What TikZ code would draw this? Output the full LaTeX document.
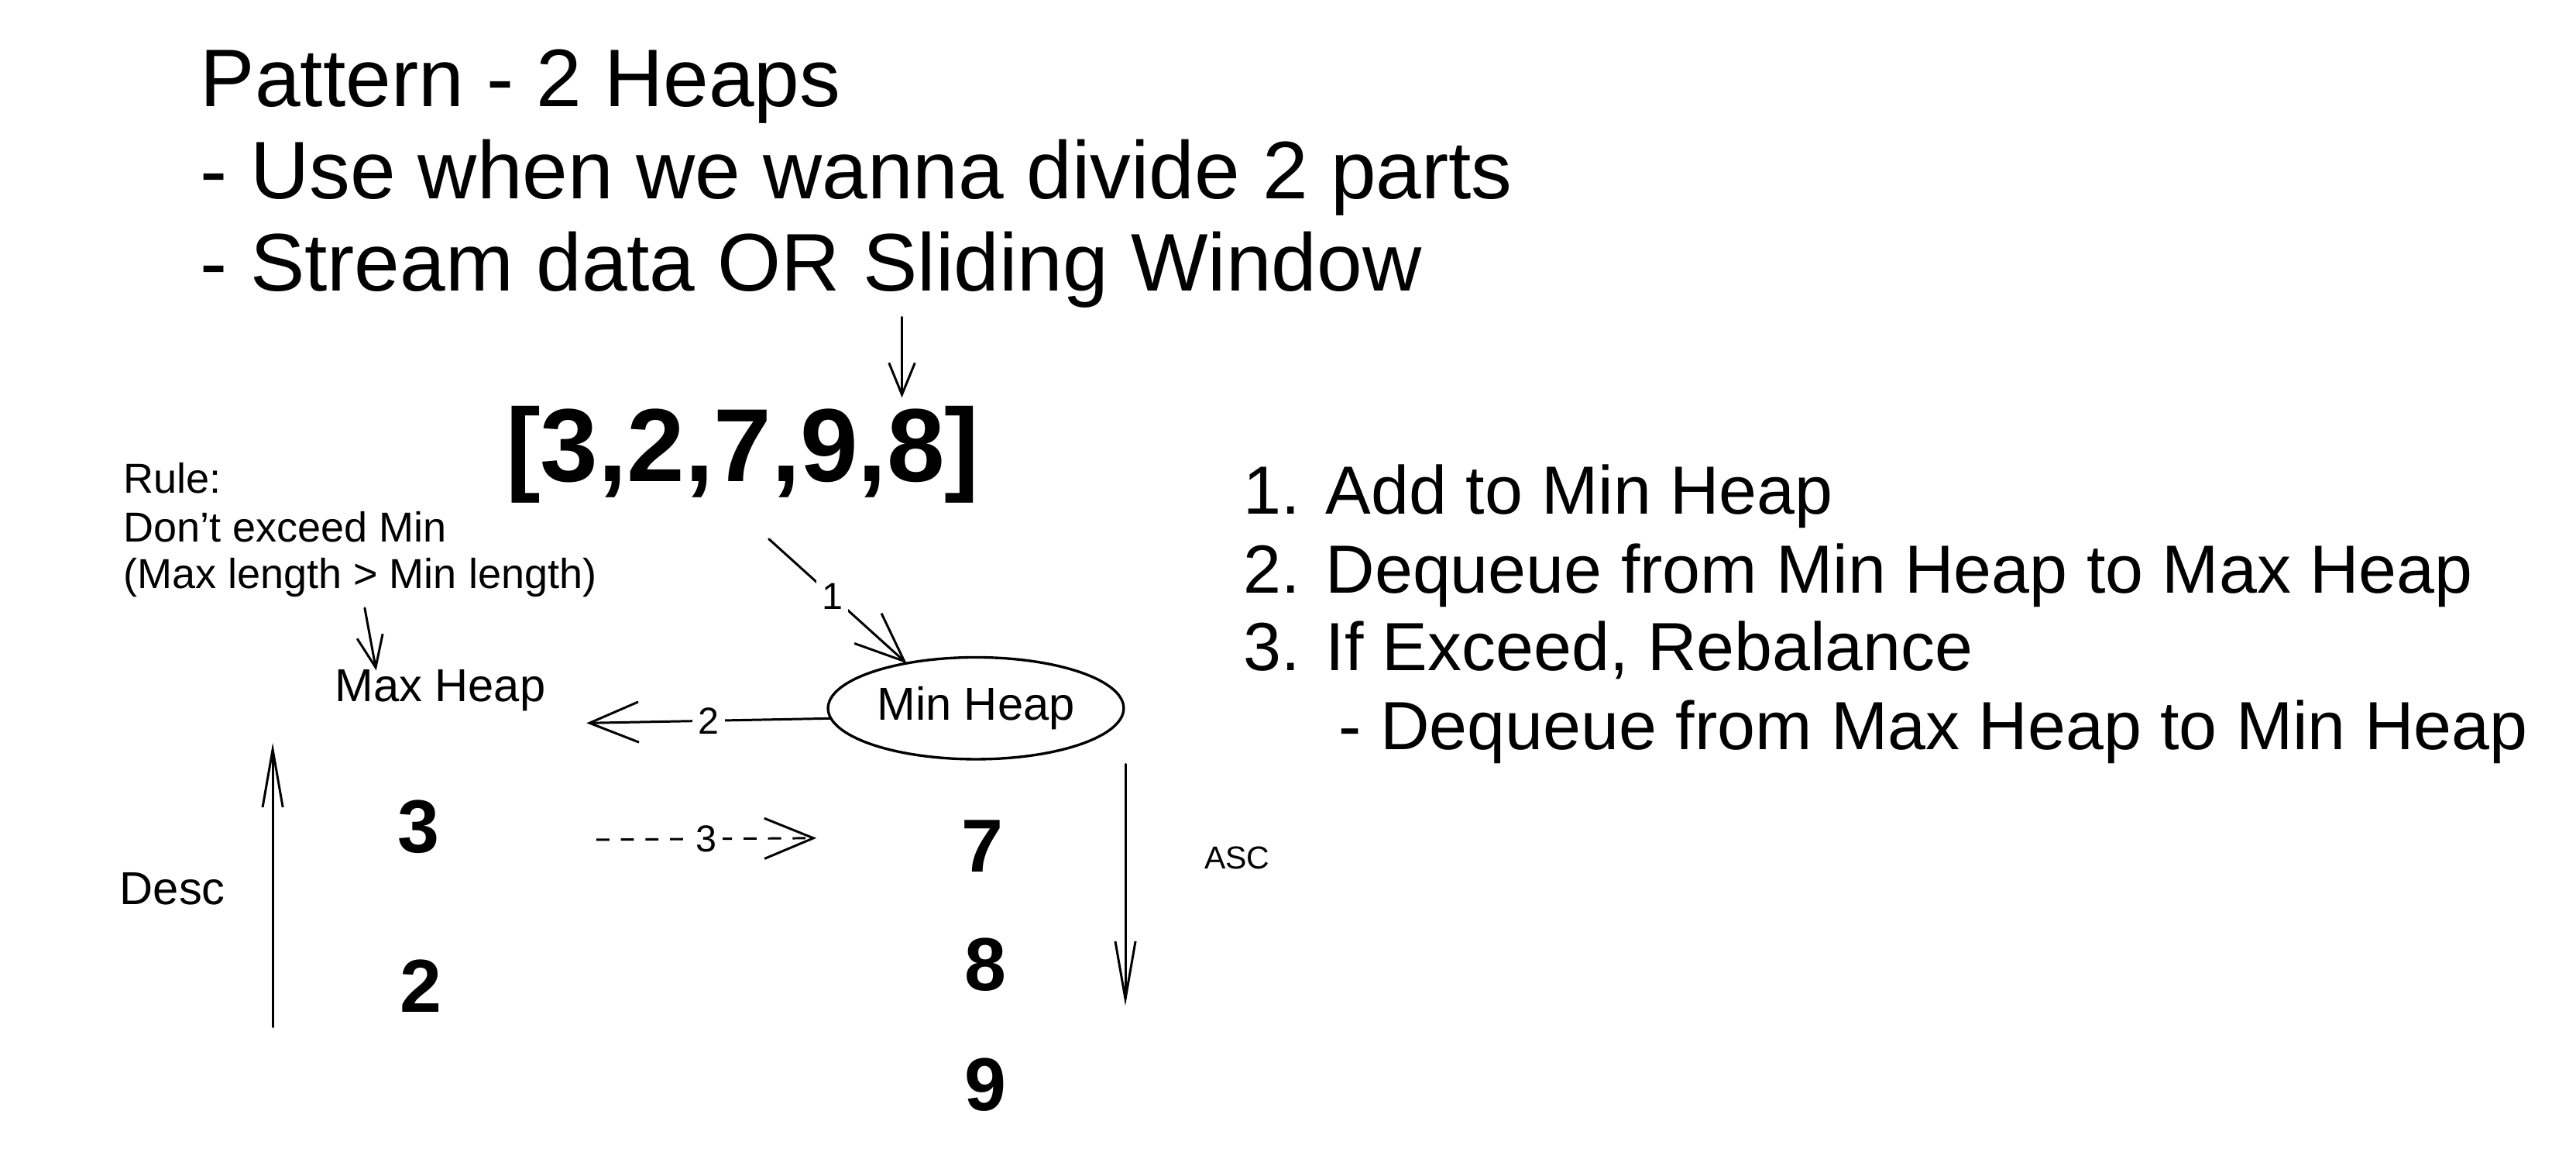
\documentclass[tikz,border=0pt]{standalone}
\usepackage{fontspec}
\setmainfont{Liberation Sans}
\usetikzlibrary{arrows.meta,shapes.geometric}
\begin{document}
\begin{tikzpicture}[x=0.02cm,y=-0.02cm,
  every node/.style={inner sep=0pt, outer sep=0pt, text=black},
  conn/.style={line width=0.8pt, line cap=round, draw=black},
  tipsmall/.style={-{Straight Barb[length=11pt,width=9pt]}},
  tipmid/.style={-{Straight Barb[length=17pt,width=14pt]}},
  tiplong/.style={-{Straight Barb[length=20pt,width=7pt]}},
  titletxt/.style={font=\fontsize{28.3}{34}\selectfont, anchor=base west},
  listtxt/.style={font=\fontsize{23.6}{28}\selectfont, anchor=base west},
  ruletxt/.style={font=\fontsize{14.5}{17}\selectfont, anchor=base west},
  heaptxt/.style={font=\fontsize{16}{19}\selectfont},
  bignum/.style={font=\bfseries\fontsize{26}{30}\selectfont},
  arraytxt/.style={font=\bfseries\fontsize{36}{40}\selectfont, anchor=base},
  lbl/.style={font=\fontsize{13}{15}\selectfont, fill=white, inner sep=2pt},
]
\useasboundingbox (0,0) rectangle (1568,705);
\fill[white] (0,0) rectangle (1568,705);

% title block
\node[titletxt] (t1) at (122,65) {Pattern - 2 Heaps};
\node[titletxt] (t2) at (122,121) {- Use when we wanna divide 2 parts};
\node[titletxt] (t3) at (122,177) {- Stream data OR Sliding Window};

% array
\node[arraytxt] (arr) at (452,293) {[3,2,7,9,8]};
\coordinate (s0) at (549,193);
\draw[conn,tipsmall] (s0) -- (549,242) coordinate (s0e);

% rule
\node[ruletxt] (r1) at (75,300) {Rule:};
\node[ruletxt] (r2) at (75,330) {Don't exceed Min};
\node[ruletxt] (r3) at (75,358) {(Max length > Min length)};
\coordinate (rs) at (222,370);
\coordinate (re) at (229,408);
\draw[conn,tipsmall] (rs) -- (re);

% heaps
\node[heaptxt] (maxh) at (268,420) {Max Heap};
\node[heaptxt, draw, line width=0.9pt, ellipse, minimum width=3.6cm, minimum height=1.24cm] (minh) at (594,431) {Min Heap};

% arrow 1
\coordinate (a1s) at (468,328);
\draw[conn,tipmid] (a1s) -- node[lbl, pos=0.46]{1} (minh.147);

% arrow 2
\coordinate (a2e) at (357,440);
\draw[conn,tipmid] (minh.184) -- node[lbl, pos=0.5]{2} (a2e);

% dashed arrow 3
\coordinate (a3s) at (363,511);
\coordinate (a3e) at (497,510);
\draw[conn,tipmid,dash pattern=on 4.5pt off 4pt,line cap=butt] (a3s) -- node[lbl, pos=0.5]{3} (a3e);

% numbers
\node[bignum] (n3) at (255,503) {3};
\node[bignum] (n2) at (256,600) {2};
\node[bignum] (n7) at (598,515) {7};
\node[bignum] (n8) at (600,587) {8};
\node[bignum] (n9) at (600,660) {9};

% desc / asc
\coordinate (ds) at (166,625);
\coordinate (de) at (166,452);
\draw[conn,tiplong] (ds) -- (de);
\node[heaptxt] (desc) at (105,541) {Desc};
\coordinate (as) at (685,465);
\coordinate (ae) at (685,612);
\draw[conn,tiplong] (as) -- (ae);
\node[font=\fontsize{11}{13}\selectfont] (asc) at (753,522) {ASC};

% steps list
\node[listtxt] (l1) at (757,313) {1. Add to Min Heap};
\node[listtxt] (l2) at (757,361) {2. Dequeue from Min Heap to Max Heap};
\node[listtxt] (l3) at (757,408) {3. If Exceed, Rebalance};
\node[listtxt] (l4) at (815,456) {- Dequeue from Max Heap to Min Heap};
\end{tikzpicture}
\end{document}
